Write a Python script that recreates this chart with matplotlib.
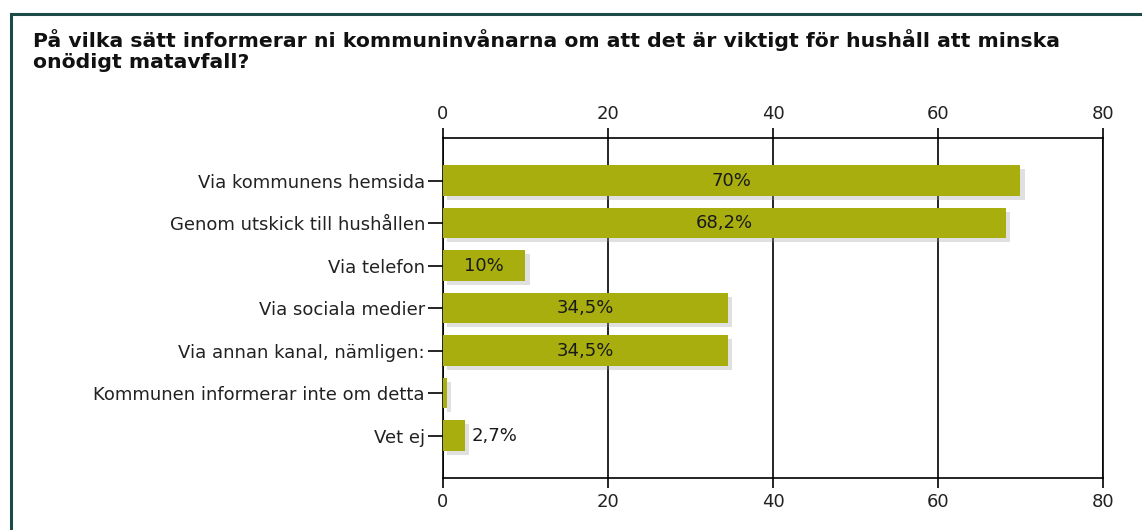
import matplotlib.pyplot as plt
import matplotlib.patheffects as pe
from matplotlib.patches import Rectangle

categories = [
    "Via kommunens hemsida",
    "Genom utskick till hushållen",
    "Via telefon",
    "Via sociala medier",
    "Via annan kanal, nämligen:",
    "Kommunen informerar inte om detta",
    "Vet ej",
]
values = [70, 68.2, 10, 34.5, 34.5, 0.5, 2.7]
labels = ["70%", "68,2%", "10%", "34,5%", "34,5%", "", "2,7%"]
xticks = [0, 20, 40, 60, 80]

title = ("På vilka sätt informerar ni kommuninvånarna om att det är viktigt för hushåll att minska\n"
         "onödigt matavfall?")

plt.rcParams["font.family"] = "DejaVu Sans"

fig = plt.figure(figsize=(11.42, 5.30), dpi=100)
ax = fig.add_axes([0.3879, 0.0981, 0.5779, 0.6415])

# outer frame (only left and top edges fall inside the image)
fig.patches.append(Rectangle((0.0096, -0.05), 1.2, 1.0245, transform=fig.transFigure,
                             fill=False, edgecolor="#1d4a48", linewidth=2.2, zorder=0))

fig.text(0.029, 0.945, title, fontsize=14.7, fontweight="bold", color="#111111",
         va="top", ha="left", linespacing=1.1)

ypos = list(range(len(categories)))
bars = ax.barh(ypos, values, height=0.72, color="#a7ae0e", zorder=3)
for b in bars:
    b.set_path_effects([pe.SimplePatchShadow(offset=(3, -3), shadow_rgbFace="#999999", alpha=0.3),
                        pe.Normal()])

for y, v, lab in zip(ypos, values, labels):
    if not lab:
        continue
    if v > 8:
        ax.text(v / 2, y, lab, ha="center", va="center", fontsize=13, color="#1a1a1a", zorder=4)
    else:
        ax.text(v + 0.8, y, lab, ha="left", va="center", fontsize=13, color="#1a1a1a", zorder=4)

ax.set_xlim(0, 80)
ax.set_ylim(len(categories), -1)
ax.set_xticks(xticks)
ax.set_yticks(ypos)
ax.set_yticklabels(categories, fontsize=13, color="#222222")
ax.tick_params(axis="x", top=True, labeltop=True, bottom=True, labelbottom=True,
               length=7, width=1.2, labelsize=13, labelcolor="#222222", pad=4)
ax.tick_params(axis="y", length=11, width=1.2, pad=2)
ax.grid(axis="x", color="black", linewidth=1.2, zorder=1)
ax.set_axisbelow(True)
for s in ax.spines.values():
    s.set_linewidth(1.2)
    s.set_color("black")

fig.savefig("out.png", dpi=100)
